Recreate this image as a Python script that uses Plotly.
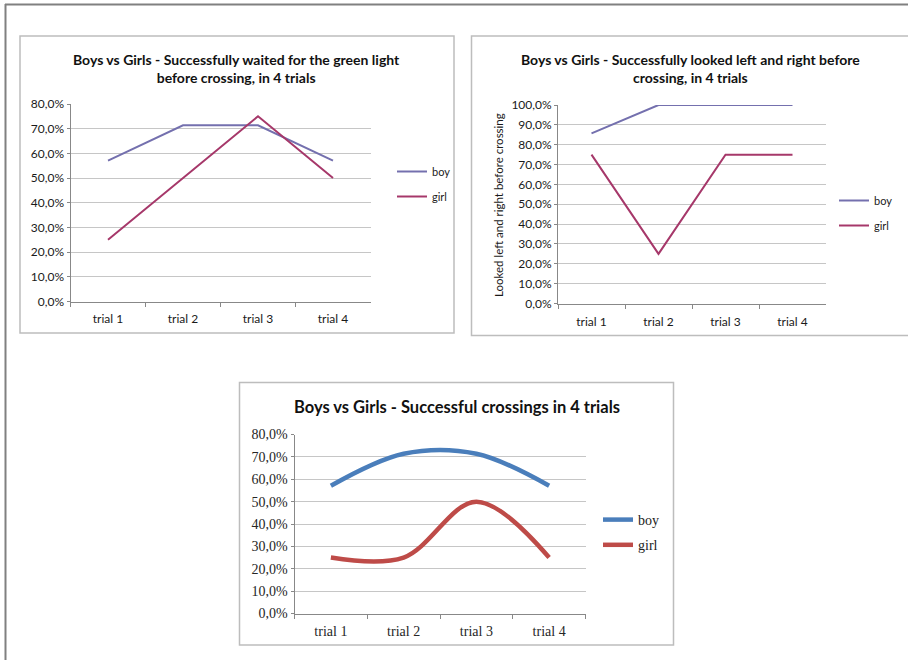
import plotly.graph_objects as go

W, H = 908, 660

trials = ["trial 1", "trial 2", "trial 3", "trial 4"]

# Chart 1: waited for the green light
wait_boy = [0.571, 0.714, 0.714, 0.571]
wait_girl = [0.25, 0.50, 0.75, 0.50]

# Chart 2: looked left and right
look_boy = [0.857, 1.0, 1.0, 1.0]
look_girl = [0.75, 0.25, 0.75, 0.75]

# Chart 3: successful crossings
cross_boy = [0.571, 0.714, 0.714, 0.571]
cross_girl = [0.25, 0.25, 0.50, 0.25]

ticks_80 = [0.0, 0.1, 0.2, 0.3, 0.4, 0.5, 0.6, 0.7, 0.8]
ticks_80_text = ["0,0%", "10,0%", "20,0%", "30,0%", "40,0%", "50,0%", "60,0%", "70,0%", "80,0%"]
ticks_100 = [0.0, 0.1, 0.2, 0.3, 0.4, 0.5, 0.6, 0.7, 0.8, 0.9, 1.0]
ticks_100_text = ["0,0%", "10,0%", "20,0%", "30,0%", "40,0%", "50,0%", "60,0%", "70,0%",
                  "80,0%", "90,0%", "100,0%"]

titles = [
    "Boys vs Girls - Successfully waited for the green light<br>before crossing, in 4 trials",
    "Boys vs Girls - Successfully looked left and right before<br>crossing, in 4 trials",
    "Boys vs Girls - Successful crossings in 4 trials",
]
y2_title = "Looked left and right before crossing"

SANS = "Lato, 'Open Sans', sans-serif"
SERIF = "'Liberation Serif', 'DejaVu Serif', serif"
BOY1, GIRL1 = "#7470ae", "#a6386a"
BOY3, GIRL3 = "#4a7ebb", "#be4b48"
GRID = "#c6c6c6"
AXL = "#888888"


def px(x):
    return x / W


def py(y):
    return 1 - y / H


fig = go.Figure()

fig.add_trace(go.Scatter(x=trials, y=wait_boy, name="boy", mode="lines",
                         line=dict(color=BOY1, width=2), xaxis="x", yaxis="y",
                         legend="legend", legendgroup="b1"))
fig.add_trace(go.Scatter(x=trials, y=wait_girl, name="girl", mode="lines",
                         line=dict(color=GIRL1, width=2), xaxis="x", yaxis="y",
                         legend="legend", legendgroup="g1"))
fig.add_trace(go.Scatter(x=trials, y=look_boy, name="boy", mode="lines",
                         line=dict(color=BOY1, width=2), xaxis="x2", yaxis="y2",
                         legend="legend2", legendgroup="b2"))
fig.add_trace(go.Scatter(x=trials, y=look_girl, name="girl", mode="lines",
                         line=dict(color=GIRL1, width=2), xaxis="x2", yaxis="y2",
                         legend="legend2", legendgroup="g2"))
fig.add_trace(go.Scatter(x=trials, y=cross_boy, name="boy", mode="lines",
                         line=dict(color=BOY3, width=4.5, shape="spline", smoothing=1.0),
                         xaxis="x3", yaxis="y3", legend="legend3", legendgroup="b3"))
fig.add_trace(go.Scatter(x=trials, y=cross_girl, name="girl", mode="lines",
                         line=dict(color=GIRL3, width=4.5, shape="spline", smoothing=1.0),
                         xaxis="x3", yaxis="y3", legend="legend3", legendgroup="g3"))


def xax(x0, x1, y_anchor, font, standoff):
    return dict(domain=[px(x0), px(x1)], anchor=y_anchor, type="category",
                range=[-0.5, 3.5], showgrid=False, showline=True, linecolor=AXL,
                linewidth=1, ticks="outside", ticklen=4, tickcolor=AXL,
                tickson="boundaries", tickfont=font, zeroline=False, fixedrange=True,
                ticklabelstandoff=standoff, automargin=False)


def yax(y_bot, y_top, x_anchor, rng, vals, text, font):
    return dict(domain=[py(y_bot), py(y_top)], anchor=x_anchor, range=rng,
                tickvals=vals, ticktext=text, showgrid=True, gridcolor=GRID,
                gridwidth=1, showline=True, linecolor=AXL, linewidth=1,
                ticks="outside", ticklen=3, tickcolor=AXL, tickfont=font,
                zeroline=False, fixedrange=True, automargin=False)


fax = dict(family=SANS, size=12, color="#1a1a1a")
fser = dict(family=SERIF, size=14, color="#262626")

shapes = [
    # outer frame
    dict(type="line", xref="paper", yref="paper", x0=px(5), x1=px(915), y0=py(4.5), y1=py(4.5),
         line=dict(color="#808080", width=2)),
    dict(type="line", xref="paper", yref="paper", x0=px(5.5), x1=px(5.5), y0=py(4), y1=py(665),
         line=dict(color="#808080", width=2)),
    # chart boxes
    dict(type="rect", xref="paper", yref="paper", x0=px(20), x1=px(454), y0=py(333), y1=py(36),
         line=dict(color="#bdbdbd", width=1.5)),
    dict(type="rect", xref="paper", yref="paper", x0=px(471.5), x1=px(920), y0=py(335.5), y1=py(36),
         line=dict(color="#bdbdbd", width=1.5)),
    dict(type="rect", xref="paper", yref="paper", x0=px(239.5), x1=px(673.5), y0=py(645), y1=py(382.5),
         line=dict(color="#bdbdbd", width=1.5)),
]

annotations = [
    dict(text="<b>" + titles[0].replace("<br>", "</b><br><b>") + "</b>", xref="paper", yref="paper",
         x=px(237), y=py(68.5), xanchor="center", yanchor="middle", showarrow=False,
         font=dict(family=SANS, size=14, color="#111111")),
    dict(text="<b>" + titles[1].replace("<br>", "</b><br><b>") + "</b>", xref="paper", yref="paper",
         x=px(690.5), y=py(69), xanchor="center", yanchor="middle", showarrow=False,
         font=dict(family=SANS, size=14, color="#111111")),
    dict(text="<b>" + titles[2] + "</b>", xref="paper", yref="paper",
         x=px(457), y=py(407), xanchor="center", yanchor="middle", showarrow=False,
         font=dict(family=SANS, size=16.5, color="#111111")),
    dict(text=y2_title, xref="paper", yref="paper", x=px(499), y=py(205),
         xanchor="center", yanchor="middle", textangle=-90, showarrow=False,
         font=dict(family=SANS, size=11.5, color="#1a1a1a")),
]


def leg(x_left, y_top, font, gap=6):
    return dict(x=px(x_left), y=py(y_top), xanchor="left", yanchor="top",
                bgcolor="rgba(0,0,0,0)", borderwidth=0, font=font,
                tracegroupgap=gap, itemwidth=30)


fig.update_layout(
    width=W, height=H, margin=dict(l=0, r=0, t=0, b=0, autoexpand=False),
    paper_bgcolor="white", plot_bgcolor="white",
    showlegend=True,
    xaxis=xax(70.5, 370.5, "y", fax, 6),
    yaxis=yax(301.5, 104, "x", [0, 0.8], ticks_80, ticks_80_text, fax),
    xaxis2=xax(558, 826, "y2", fax, 7),
    yaxis2=yax(303.5, 105, "x2", [0, 1.0], ticks_100, ticks_100_text, fax),
    xaxis3=xax(294.5, 585.5, "y3", fser, 5),
    yaxis3=yax(613.5, 434.5, "x3", [0, 0.8], ticks_80, ticks_80_text, fser),
    legend=leg(392, 157, dict(family=SANS, size=11, color="#222222")),
    legend2=leg(834, 186, dict(family=SANS, size=11, color="#222222")),
    legend3=leg(598, 504, dict(family=SERIF, size=14, color="#222222"), gap=4),
    shapes=shapes,
    annotations=annotations,
)

fig.write_html("out.html")
